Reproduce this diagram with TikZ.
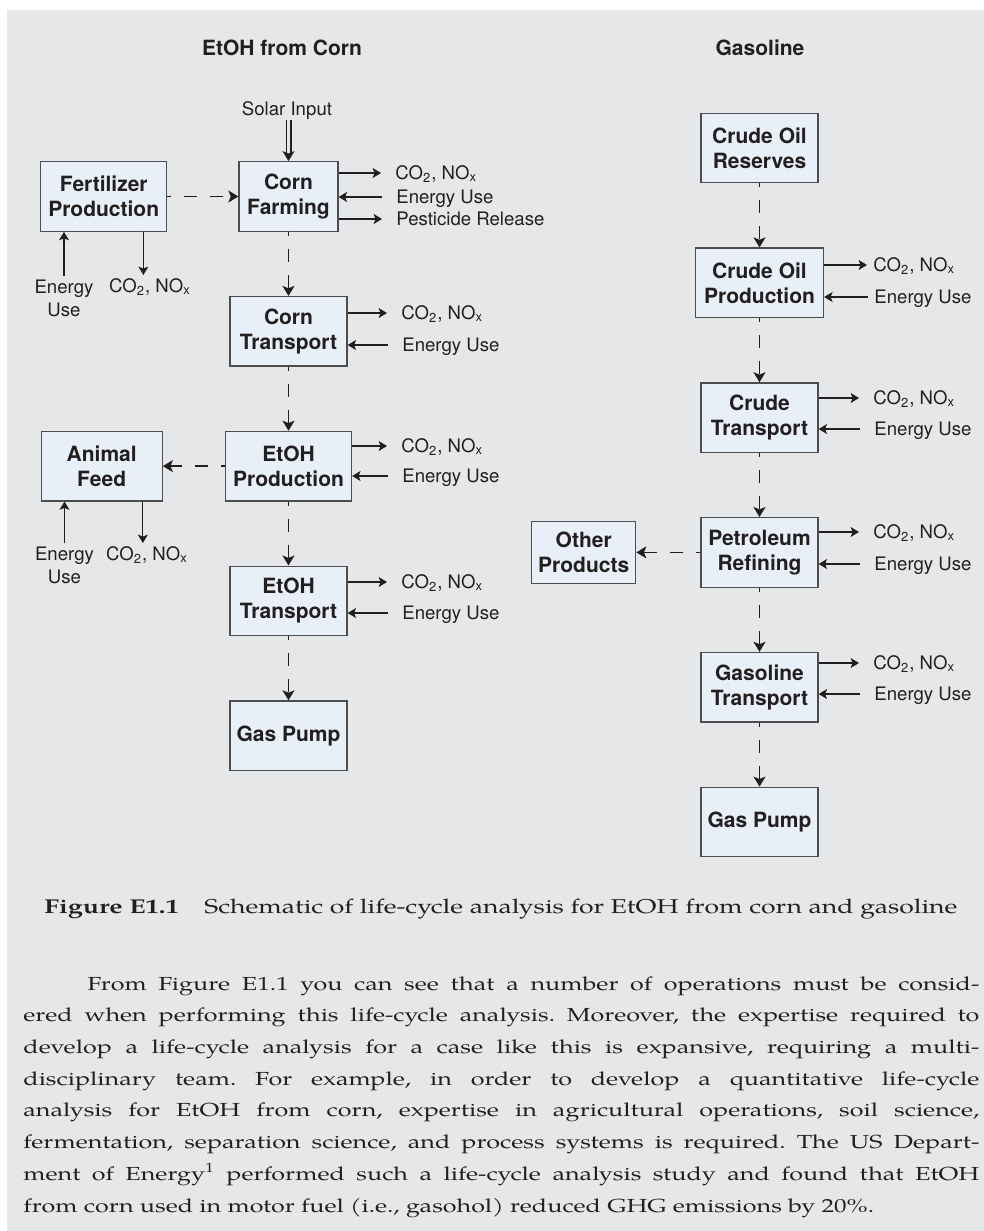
\documentclass[tikz,border=0pt]{standalone}
\usepackage{fontspec}
\setsansfont{TeX Gyre Heros}
\newfontfamily\bookfont{texgyrepagella-regular.otf}[BoldFont=texgyrepagella-bold.otf,FakeStretch=1.33]
\usetikzlibrary{arrows.meta,positioning}
\definecolor{bggray}{RGB}{230,231,232}
\definecolor{boxfill}{RGB}{232,239,247}
\definecolor{boxedge}{RGB}{77,77,79}
\definecolor{inkc}{RGB}{35,31,32}
\tikzset{
  procbox/.style={draw=boxedge, fill=boxfill, line width=0.65pt, minimum height=34.75pt,
    inner sep=2pt, align=center, text=inkc,
    font=\sffamily\bfseries\fontsize{10.5}{12.5}\selectfont},
  flowln/.style={-{Stealth[length=4.2pt,width=5pt,inset=1pt]}, line width=0.55pt, inkc},
  linkln/.style={-{Stealth[length=5pt,width=6pt,inset=1.2pt]}, line width=0.8pt, inkc,
    dash pattern=on 6.5pt off 6.5pt, dash phase=4.5pt},
  solarln/.style={-{Stealth[length=5pt,width=6pt,inset=1.2pt]}, line width=0.55pt, inkc,
    double=bggray, double distance=1.9pt},
  sidelbl/.style={font=\sffamily\fontsize{9.3}{11.5}\selectfont, text=inkc,
    inner xsep=7pt, inner ysep=2pt, text height=6.7pt, text depth=0pt},
  uselbl/.style={font=\sffamily\fontsize{9.3}{11.5}\selectfont, text=inkc,
    inner sep=2pt, align=center},
  headlbl/.style={font=\sffamily\bfseries\fontsize{10.5}{12.5}\selectfont, text=inkc,
    inner sep=0pt},
  booktxt/.style={font=\bookfont\fontsize{10}{12}\selectfont, text=inkc, inner sep=0pt},
}

\begin{document}
\begin{tikzpicture}[x=0.5pt, y=-0.5pt, node distance=32pt]
    \useasboundingbox (0,0) rectangle (984,1231);
    \fill[bggray] (7,10) rectangle (984,1231);

    % column titles
    \node[headlbl, anchor=base] (corntitle) at (282,55) {EtOH from Corn};
    \node[headlbl, anchor=base] (gastitle) at (760,55) {Gasoline};

    % EtOH from corn
    \node[procbox, minimum width=49.5pt] (farm) at (288.5,196.5) {Corn\\Farming};
    \node[procbox, minimum width=63pt, left=35.5pt of farm] (fert) {Fertilizer\\Production};
    \node[procbox, minimum width=58.5pt, below=of farm] (ctrans) {Corn\\Transport};
    \node[procbox, minimum width=63pt, below=of ctrans] (eprod) {EtOH\\Production};
    \node[procbox, minimum width=60.5pt, left=31pt of eprod] (feed) {Animal\\Feed};
    \node[procbox, minimum width=58.5pt, below=of eprod] (etrans) {EtOH\\Transport};
    \node[procbox, minimum width=58.5pt, below=of etrans] (pumpa) {Gas Pump};

    % gasoline
    \node[procbox, minimum width=58.5pt] (reserves) at (759.5,148) {Crude Oil\\Reserves};
    \node[procbox, minimum width=64pt, below=of reserves] (cprod) {Crude Oil\\Production};
    \node[procbox, minimum width=58.5pt, below=of cprod] (crtrans) {Crude\\Transport};
    \node[procbox, minimum width=58.5pt, below=of crtrans] (refine) {Petroleum\\Refining};
    \node[procbox, minimum width=52pt, minimum height=31pt, left=32pt of refine]
      (other) {Other\\Products};
    \node[procbox, minimum width=58.5pt, below=of refine] (gtrans) {Gasoline\\Transport};
    \node[procbox, minimum width=58.5pt, below=of gtrans] (pumpb) {Gas Pump};

    % main chains
    \draw[linkln] (fert) -- (farm);
    \draw[linkln] (farm) -- (ctrans);
    \draw[linkln] (ctrans) -- (eprod);
    \draw[linkln] (eprod) -- (etrans);
    \draw[linkln] (etrans) -- (pumpa);
    \draw[linkln] (eprod) -- (feed);
    \draw[linkln] (reserves) -- (cprod);
    \draw[linkln] (cprod) -- (crtrans);
    \draw[linkln] (crtrans) -- (refine);
    \draw[linkln] (refine) -- (gtrans);
    \draw[linkln] (gtrans) -- (pumpb);
    \draw[linkln] (refine) -- (other);

    % solar input
    \node[sidelbl, inner xsep=0pt] (solar) at (287,109) {Solar Input};
    \draw[solarln] (solar.south -| farm.north) -- (farm.north);

    % corn farming flows
    \node[sidelbl, anchor=west] (farmco2) at (381,173) {CO\textsubscript{2}, NO\textsubscript{x}};
    \node[sidelbl, anchor=west] (farmuse) at (382,197) {Energy Use};
    \node[sidelbl, anchor=west] (farmpest) at (382,219) {Pesticide Release};
    \draw[flowln] (farm.east |- farmco2.west) -- (farmco2.west);
    \draw[flowln] (farmuse.west) -- (farmuse.west -| farm.east);
    \draw[flowln] (farm.east |- farmpest.west) -- (farmpest.west);

    % fertilizer flows
    \node[uselbl, anchor=north] (fertuse) at (64,276) {Energy\\Use};
    \node[sidelbl, anchor=north] (fertco2) at (150,275) {CO\textsubscript{2}, NO\textsubscript{x}};
    \coordinate (fertout) at ([xshift=-12pt]fert.south east);
    \draw[flowln] (fertuse) -- (fertuse |- fert.south);
    \draw[flowln] (fertout) -- (fertout |- fertco2.north);

    % corn transport flows
    \node[sidelbl, anchor=west] (ctransco2) at (387,313) {CO\textsubscript{2}, NO\textsubscript{x}};
    \node[sidelbl, anchor=west] (ctransuse) at (388,345) {Energy Use};
    \draw[flowln] (ctrans.east |- ctransco2.west) -- (ctransco2.west);
    \draw[flowln] (ctransuse.west) -- (ctransuse.west -| ctrans.east);

    % etoh production flows
    \node[sidelbl, anchor=west] (eprodco2) at (387,446) {CO\textsubscript{2}, NO\textsubscript{x}};
    \node[sidelbl, anchor=west] (eproduse) at (388,476) {Energy Use};
    \draw[flowln] (eprod.east |- eprodco2.west) -- (eprodco2.west);
    \draw[flowln] (eproduse.west) -- (eproduse.west -| eprod.east);

    % animal feed flows
    \node[uselbl, anchor=north] (feeduse) at (64.5,543) {Energy\\Use};
    \node[sidelbl, anchor=north] (feedco2) at (147,543) {CO\textsubscript{2}, NO\textsubscript{x}};
    \coordinate (feedout) at ([xshift=-10pt]feed.south east);
    \draw[flowln] (feeduse) -- (feeduse |- feed.south);
    \draw[flowln] (feedout) -- (feedout |- feedco2.north);

    % etoh transport flows
    \node[sidelbl, anchor=west] (etransco2) at (387,582) {CO\textsubscript{2}, NO\textsubscript{x}};
    \node[sidelbl, anchor=west] (etransuse) at (388,613) {Energy Use};
    \draw[flowln] (etrans.east |- etransco2.west) -- (etransco2.west);
    \draw[flowln] (etransuse.west) -- (etransuse.west -| etrans.east);

    % crude oil production flows
    \node[sidelbl, inner xsep=3pt, anchor=west] (cprodco2) at (867,265) {CO\textsubscript{2}, NO\textsubscript{x}};
    \node[sidelbl, inner xsep=3pt, anchor=west] (cproduse) at (868,297) {Energy Use};
    \draw[flowln] (cprod.east |- cprodco2.west) -- (cprodco2.west);
    \draw[flowln] (cproduse.west) -- (cproduse.west -| cprod.east);

    % crude transport flows
    \node[sidelbl, anchor=west] (crtransco2) at (859,398) {CO\textsubscript{2}, NO\textsubscript{x}};
    \node[sidelbl, anchor=west] (crtransuse) at (860,429) {Energy Use};
    \draw[flowln] (crtrans.east |- crtransco2.west) -- (crtransco2.west);
    \draw[flowln] (crtransuse.west) -- (crtransuse.west -| crtrans.east);

    % refining flows
    \node[sidelbl, anchor=west] (refineco2) at (859,532) {CO\textsubscript{2}, NO\textsubscript{x}};
    \node[sidelbl, anchor=west] (refineuse) at (860,564) {Energy Use};
    \draw[flowln] (refine.east |- refineco2.west) -- (refineco2.west);
    \draw[flowln] (refineuse.west) -- (refineuse.west -| refine.east);

    % gasoline transport flows
    \node[sidelbl, anchor=west] (gtransco2) at (859,663) {CO\textsubscript{2}, NO\textsubscript{x}};
    \node[sidelbl, anchor=west] (gtransuse) at (860,694) {Energy Use};
    \draw[flowln] (gtrans.east |- gtransco2.west) -- (gtransco2.west);
    \draw[flowln] (gtransuse.west) -- (gtransuse.west -| gtrans.east);

    % caption and running text
    \node[booktxt, anchor=base west] (capnum) at (44,913) {\bfseries Figure E1.1};
    \node[booktxt, anchor=base west] (captext) at (204,913)
      {Schematic of life-cycle analysis for EtOH from corn and gasoline};
    \node[booktxt, font=\bookfont\fontsize{9.45}{15.85}\selectfont, anchor=north west,
      text width=478pt, align=justify] (bodytext) at (23,976)
      {\frenchspacing\hyphenpenalty=10000 \exhyphenpenalty=10000 \tolerance=10000
      \hspace*{32pt}From Figure E1.1 you can see that a number of operations must be consid-\linebreak
      ered when performing this life-cycle analysis. Moreover, the expertise required to\linebreak
      develop a life-cycle analysis for a case like this is expansive, requiring a multi-\linebreak
      disciplinary team. For example, in order to develop a quantitative life-cycle\linebreak
      analysis for EtOH from corn, expertise in agricultural operations, soil science,\linebreak
      fermentation, separation science, and process systems is required. The US Depart-\linebreak
      ment of Energy\textsuperscript{1} performed such a life-cycle analysis study and found that EtOH\linebreak
      from corn used in motor fuel (i.e., gasohol) reduced GHG emissions by 20\%.};
\end{tikzpicture}
\end{document}
